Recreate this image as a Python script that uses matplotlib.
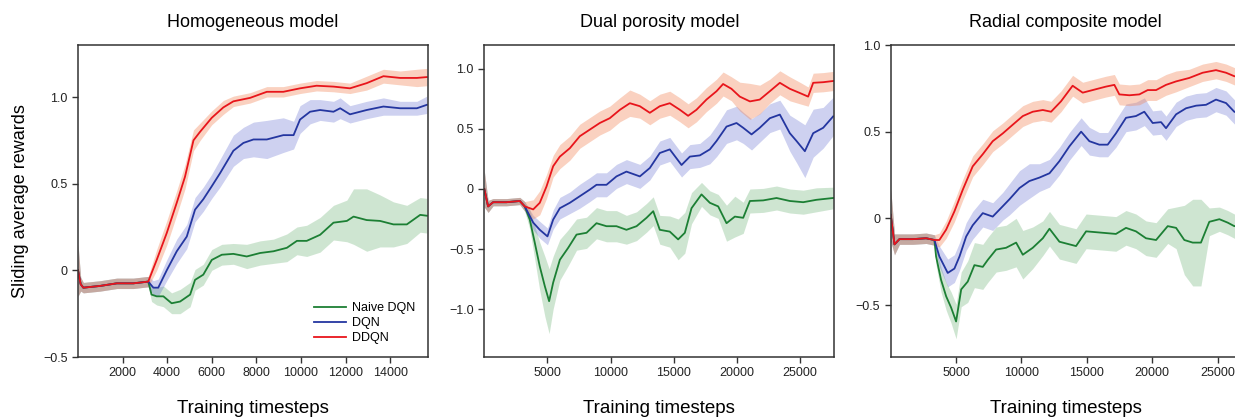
import numpy as np
import matplotlib
matplotlib.use("Agg")
import matplotlib.pyplot as plt
from matplotlib.ticker import FuncFormatter

plt.rcParams['font.family'] = ['Liberation Sans', 'DejaVu Sans']

# ---- Homogeneous model ----
HOM_T_DDQN = [0, 120, 240, 990, 1740, 2480, 3150, 3530, 3980, 4430, 4800, 5180, 5480, 6000,
              6520, 6970, 7720, 8470, 9210, 9960, 10700, 11460, 12200, 12950, 13700, 14450,
              15200, 15650]
HOM_DDQN = [0.0, -0.08, -0.10, -0.09, -0.075, -0.075, -0.065, 0.06, 0.215, 0.39, 0.54, 0.75,
            0.80, 0.88, 0.94, 0.975, 0.995, 1.03, 1.03, 1.05, 1.065, 1.06, 1.05, 1.08, 1.12,
            1.11, 1.11, 1.115]
HOM_DDQN_HW = [0.15, 0.04, 0.03, 0.03, 0.03, 0.03, 0.03, 0.06, 0.07, 0.07, 0.07, 0.06, 0.05,
               0.04, 0.04, 0.03, 0.03, 0.03, 0.03, 0.03, 0.03, 0.03, 0.03, 0.04, 0.04, 0.04,
               0.05, 0.05]

HOM_T_DQN = [0, 120, 240, 990, 1740, 2480, 3150, 3380, 3600, 3980, 4430, 4880, 5250, 5620,
             6000, 6370, 6970, 7420, 7870, 8470, 9210, 9670, 9960, 10410, 10860, 11460, 11760,
             12200, 12950, 13700, 14450, 15200, 15650]
HOM_DQN = [0.0, -0.08, -0.10, -0.09, -0.075, -0.075, -0.065, -0.10, -0.10, 0.0, 0.11, 0.195,
           0.35, 0.41, 0.485, 0.56, 0.69, 0.735, 0.755, 0.755, 0.78, 0.78, 0.87, 0.915, 0.925,
           0.915, 0.935, 0.90, 0.925, 0.945, 0.935, 0.935, 0.955]
HOM_DQN_HW = [0.15, 0.04, 0.03, 0.03, 0.03, 0.03, 0.03, 0.04, 0.05, 0.06, 0.07, 0.07, 0.07,
              0.07, 0.07, 0.08, 0.09, 0.09, 0.10, 0.11, 0.10, 0.08, 0.08, 0.07, 0.06, 0.06,
              0.06, 0.05, 0.05, 0.05, 0.04, 0.04, 0.05]

HOM_T_NAIVE = [0, 120, 240, 990, 1740, 2480, 3150, 3300, 3530, 3830, 4200, 4580, 5030, 5250,
               5620, 6000, 6450, 6970, 7570, 8170, 8770, 9370, 9820, 10260, 10860, 11460,
               12060, 12360, 12950, 13550, 14150, 14750, 15350, 15650]
HOM_NAIVE = [0.0, -0.08, -0.10, -0.09, -0.075, -0.075, -0.065, -0.14, -0.15, -0.15, -0.19,
             -0.18, -0.14, -0.055, -0.025, 0.06, 0.09, 0.095, 0.08, 0.10, 0.11, 0.13, 0.17,
             0.17, 0.205, 0.275, 0.285, 0.31, 0.29, 0.285, 0.265, 0.265, 0.32, 0.315]
HOM_NAIVE_HW = [0.15, 0.04, 0.03, 0.03, 0.03, 0.03, 0.03, 0.04, 0.05, 0.06, 0.06, 0.07, 0.07,
                0.06, 0.06, 0.06, 0.06, 0.06, 0.07, 0.07, 0.07, 0.08, 0.08, 0.09, 0.10, 0.10,
                0.12, 0.16, 0.18, 0.15, 0.13, 0.11, 0.10, 0.10]

# ---- Dual porosity model ----
DUAL_T_DDQN = [0, 300, 700, 1750, 2810, 3200, 3870, 4390, 4920, 5450, 5980, 6770, 7560, 8350,
               9140, 9930, 10730, 11520, 12310, 13100, 13890, 14680, 15480, 16130, 16790,
               17580, 18380, 18900, 19560, 20220, 21020, 21800, 22600, 23390, 24180, 24970,
               25630, 26030, 26820, 27610]
DUAL_DDQN = [0.0, -0.145, -0.11, -0.11, -0.10, -0.145, -0.17, -0.115, 0.02, 0.19, 0.27, 0.34,
             0.44, 0.495, 0.55, 0.59, 0.66, 0.715, 0.69, 0.635, 0.69, 0.715, 0.66, 0.61, 0.66,
             0.745, 0.815, 0.875, 0.835, 0.77, 0.73, 0.745, 0.815, 0.885, 0.835, 0.80, 0.77,
             0.885, 0.89, 0.90]
DUAL_DDQN_HW = [0.15, 0.05, 0.03, 0.03, 0.03, 0.04, 0.08, 0.10, 0.10, 0.09, 0.10, 0.10, 0.10,
                0.10, 0.10, 0.10, 0.10, 0.11, 0.10, 0.10, 0.10, 0.10, 0.10, 0.10, 0.10, 0.10,
                0.10, 0.10, 0.10, 0.12, 0.15, 0.12, 0.10, 0.10, 0.10, 0.09, 0.08, 0.08, 0.08,
                0.08]

DUAL_T_DQN = [0, 300, 700, 1750, 2810, 3200, 3870, 4390, 5000, 5450, 5980, 6770, 7560, 8350,
              8880, 9670, 10460, 11250, 12310, 13100, 13890, 14680, 15610, 16270, 17060, 17850,
              18380, 19170, 19960, 20490, 21150, 21800, 22600, 23390, 24180, 24710, 25370,
              26030, 26820, 27610]
DUAL_DQN = [0.0, -0.145, -0.11, -0.11, -0.10, -0.145, -0.28, -0.34, -0.395, -0.255, -0.16,
            -0.115, -0.06, -0.005, 0.035, 0.035, 0.105, 0.145, 0.105, 0.175, 0.30, 0.33, 0.20,
            0.27, 0.28, 0.33, 0.40, 0.52, 0.55, 0.51, 0.455, 0.51, 0.59, 0.62, 0.465, 0.40,
            0.315, 0.465, 0.51, 0.605]
DUAL_DQN_HW = [0.15, 0.05, 0.03, 0.03, 0.03, 0.04, 0.06, 0.07, 0.07, 0.08, 0.09, 0.09, 0.10,
               0.10, 0.10, 0.10, 0.10, 0.10, 0.10, 0.10, 0.10, 0.10, 0.10, 0.10, 0.10, 0.12,
               0.13, 0.14, 0.14, 0.13, 0.13, 0.12, 0.12, 0.12, 0.15, 0.18, 0.22, 0.20, 0.17,
               0.16]

DUAL_T_NAIVE = [0, 300, 700, 1750, 2810, 3200, 3600, 4000, 4390, 4790, 5130, 5450, 5980, 6640,
                7300, 8090, 8880, 9670, 10460, 11250, 12050, 12840, 13370, 13890, 14680, 15340,
                15870, 16400, 17190, 17850, 18510, 19170, 19830, 20490, 21020, 22070, 23130,
                24180, 25240, 26290, 27610]
DUAL_NAIVE = [0.0, -0.145, -0.11, -0.11, -0.10, -0.145, -0.255, -0.45, -0.645, -0.81, -0.935,
              -0.78, -0.59, -0.49, -0.38, -0.365, -0.285, -0.31, -0.31, -0.34, -0.31, -0.24,
              -0.185, -0.34, -0.355, -0.42, -0.365, -0.16, -0.045, -0.115, -0.145, -0.285,
              -0.23, -0.24, -0.10, -0.095, -0.075, -0.10, -0.11, -0.09, -0.075]
DUAL_NAIVE_HW = [0.15, 0.05, 0.03, 0.03, 0.03, 0.04, 0.08, 0.14, 0.20, 0.25, 0.27, 0.22, 0.17,
                 0.15, 0.13, 0.13, 0.13, 0.13, 0.13, 0.12, 0.12, 0.12, 0.12, 0.12, 0.13, 0.17,
                 0.17, 0.13, 0.10, 0.10, 0.10, 0.15, 0.17, 0.13, 0.10, 0.10, 0.10, 0.10, 0.10,
                 0.10, 0.09]

# ---- Radial composite model ----
RAD_T_DDQN = [0, 290, 670, 1690, 2710, 3340, 3720, 4240, 4870, 5510, 6270, 7040, 7800, 8570,
              9330, 10100, 10860, 11630, 12260, 13020, 13910, 14680, 15440, 16460, 17100, 17480,
              18250, 19010, 19650, 20290, 21050, 21820, 22830, 23850, 24870, 25640, 26270, 26800]
RAD_DDQN = [0.02, -0.15, -0.12, -0.12, -0.115, -0.125, -0.125, -0.065, 0.04, 0.165, 0.30, 0.37,
            0.445, 0.49, 0.54, 0.59, 0.615, 0.625, 0.615, 0.675, 0.765, 0.725, 0.74, 0.76, 0.77,
            0.715, 0.71, 0.715, 0.74, 0.74, 0.77, 0.79, 0.81, 0.84, 0.855, 0.84, 0.82, 0.815]
RAD_DDQN_HW = [0.15, 0.06, 0.03, 0.03, 0.03, 0.03, 0.04, 0.05, 0.06, 0.06, 0.06, 0.06, 0.06,
               0.06, 0.06, 0.06, 0.06, 0.06, 0.06, 0.06, 0.06, 0.06, 0.06, 0.06, 0.06, 0.06,
               0.06, 0.06, 0.06, 0.06, 0.06, 0.06, 0.05, 0.05, 0.05, 0.05, 0.05, 0.05]

RAD_T_DQN = [0, 290, 670, 1690, 2710, 3340, 3720, 4360, 4870, 5260, 5770, 6270, 7040, 7800,
             8570, 9080, 9850, 10600, 11370, 12140, 12900, 13660, 14560, 15190, 15950, 16590,
             17220, 17990, 18750, 19390, 20030, 20670, 21050, 21820, 22580, 23350, 24110, 24870,
             25640, 26270, 26800]
RAD_DQN = [0.02, -0.15, -0.12, -0.12, -0.115, -0.125, -0.22, -0.315, -0.29, -0.22, -0.105,
           -0.04, 0.03, 0.01, 0.07, 0.11, 0.175, 0.215, 0.235, 0.26, 0.33, 0.415, 0.50, 0.445,
           0.425, 0.425, 0.49, 0.58, 0.59, 0.615, 0.55, 0.555, 0.52, 0.60, 0.635, 0.65, 0.655,
           0.685, 0.665, 0.615, 0.60]
RAD_DQN_HW = [0.15, 0.06, 0.03, 0.03, 0.03, 0.03, 0.06, 0.08, 0.08, 0.08, 0.08, 0.08, 0.08,
              0.08, 0.08, 0.09, 0.10, 0.10, 0.08, 0.08, 0.08, 0.08, 0.08, 0.08, 0.07, 0.07,
              0.08, 0.08, 0.08, 0.08, 0.07, 0.07, 0.07, 0.07, 0.07, 0.07, 0.07, 0.07, 0.07,
              0.07, 0.07]

RAD_T_NAIVE = [0, 290, 670, 1690, 2710, 3340, 3470, 3850, 4240, 4620, 5000, 5390, 5890, 6400,
               7040, 7420, 8060, 8820, 9590, 10100, 10860, 11630, 12140, 12900, 13660, 14170,
               14940, 15700, 16460, 17220, 17990, 18750, 19520, 20290, 21180, 21820, 22450,
               23090, 23720, 24360, 25130, 25770, 26270, 26800]
RAD_NAIVE = [0.02, -0.15, -0.12, -0.12, -0.115, -0.125, -0.22, -0.355, -0.45, -0.515, -0.595,
             -0.41, -0.365, -0.27, -0.28, -0.24, -0.18, -0.17, -0.14, -0.21, -0.17, -0.115,
             -0.06, -0.135, -0.15, -0.16, -0.075, -0.08, -0.085, -0.09, -0.055, -0.075, -0.115,
             -0.125, -0.045, -0.055, -0.125, -0.14, -0.14, -0.02, -0.005, -0.025, -0.045, -0.04]
RAD_NAIVE_HW = [0.15, 0.06, 0.03, 0.03, 0.03, 0.03, 0.05, 0.07, 0.08, 0.09, 0.10, 0.10, 0.12,
                0.13, 0.13, 0.13, 0.13, 0.13, 0.14, 0.14, 0.12, 0.10, 0.10, 0.10, 0.10, 0.10,
                0.10, 0.10, 0.10, 0.10, 0.10, 0.10, 0.10, 0.10, 0.10, 0.12, 0.20, 0.25, 0.25,
                0.08, 0.07, 0.07, 0.07, 0.07]

TITLES = ["Homogeneous model", "Dual porosity model", "Radial composite model"]
LABELS = ["Naive DQN", "DQN", "DDQN"]

# line colour, fill colour, fill alpha
STYLES = [("#1c7f34", "#3f9a4a", 0.25),
          ("#2436a0", "#4a55c8", 0.27),
          ("#e8151b", "#f2875a", 0.38)]

panels = [
    dict(series=[(HOM_T_NAIVE, HOM_NAIVE, HOM_NAIVE_HW),
                 (HOM_T_DQN, HOM_DQN, HOM_DQN_HW),
                 (HOM_T_DDQN, HOM_DDQN, HOM_DDQN_HW)],
         xlim=(0, 15700), ylim=(-0.5, 1.3),
         xticks=range(2000, 15000, 2000), yticks=[-0.5, 0, 0.5, 1.0]),
    dict(series=[(DUAL_T_NAIVE, DUAL_NAIVE, DUAL_NAIVE_HW),
                 (DUAL_T_DQN, DUAL_DQN, DUAL_DQN_HW),
                 (DUAL_T_DDQN, DUAL_DDQN, DUAL_DDQN_HW)],
         xlim=(0, 27700), ylim=(-1.4, 1.2),
         xticks=range(5000, 26000, 5000), yticks=[-1.0, -0.5, 0, 0.5, 1.0]),
    dict(series=[(RAD_T_NAIVE, RAD_NAIVE, RAD_NAIVE_HW),
                 (RAD_T_DQN, RAD_DQN, RAD_DQN_HW),
                 (RAD_T_DDQN, RAD_DDQN, RAD_DDQN_HW)],
         xlim=(0, 26760), ylim=(-0.8, 1.0),
         xticks=range(5000, 26000, 5000), yticks=[-0.5, 0, 0.5, 1.0]),
]


def fmt_y(v, pos):
    if abs(v) < 1e-9:
        return "0"
    return f"{v:.1f}".replace("-", "\u2212")


W, H = 1235, 420
fig = plt.figure(figsize=(W / 100, H / 100), dpi=100)
lefts = [78, 484.3, 890.7]
spine_col = "#333333"

for i, p in enumerate(panels):
    ax = fig.add_axes([lefts[i] / W, (H - 357) / H, 350 / W, 312 / H])
    for (t, m, hw), (lc, fc, fa), lab in zip(p["series"], STYLES, LABELS):
        t = np.array(t)
        m = np.array(m)
        hw = np.array(hw)
        ax.fill_between(t, m - hw, m + hw, color=fc, alpha=fa, lw=0)
        ax.plot(t, m, color=lc, lw=1.3, label=lab)
    ax.set_xlim(*p["xlim"])
    ax.set_ylim(*p["ylim"])
    ax.set_xticks(list(p["xticks"]))
    ax.set_yticks(p["yticks"])
    ax.yaxis.set_major_formatter(FuncFormatter(fmt_y))
    ax.tick_params(direction="out", length=4, width=1, colors=spine_col,
                   labelsize=9, labelcolor="#222222")
    for s in ax.spines.values():
        s.set_color(spine_col)
        s.set_linewidth(1.1)
    ax.set_title(TITLES[i], fontsize=13, pad=13)
    ax.set_xlabel("Training timesteps", fontsize=13.5, labelpad=15)
    if i == 0:
        ax.set_ylabel("Sliding average rewards", fontsize=13, labelpad=10)
        ax.legend(loc="lower right", frameon=False, fontsize=9, handlelength=2.6,
                  handletextpad=0.5, labelspacing=0.25, borderaxespad=0.6)

fig.savefig("out.png", dpi=100)
